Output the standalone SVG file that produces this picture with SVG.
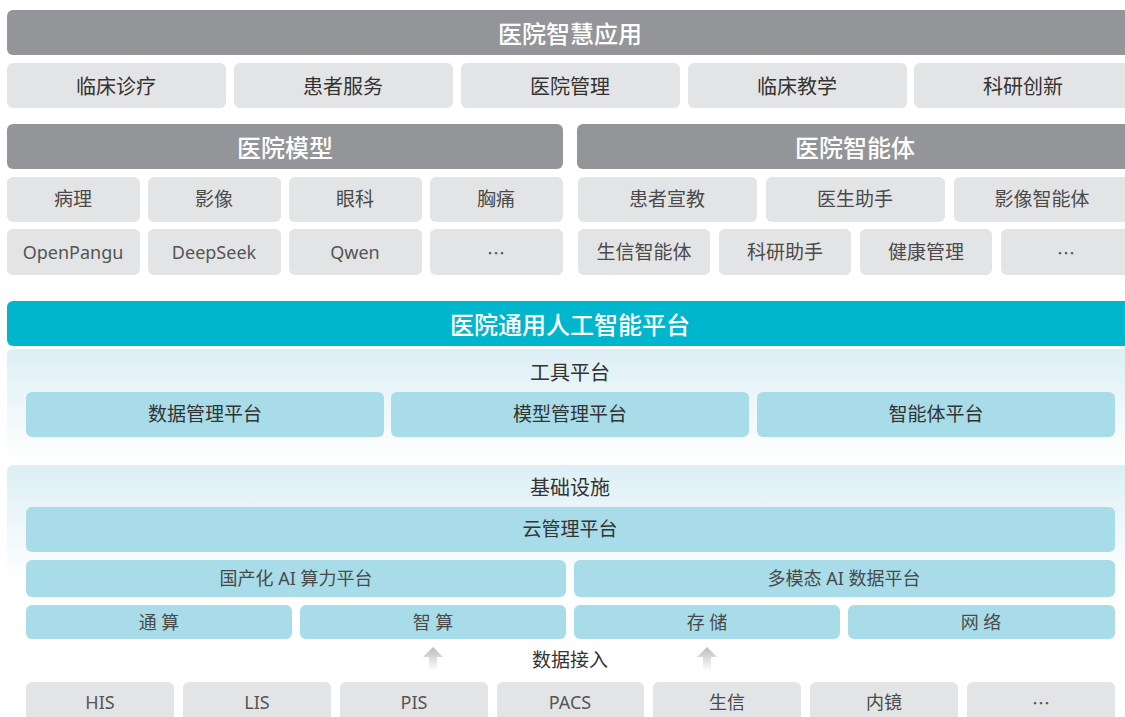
<svg xmlns="http://www.w3.org/2000/svg" width="1125" height="717" viewBox="0 0 1125 717">
<defs>
<linearGradient id="panelGrad" x1="0" y1="0" x2="0" y2="1">
<stop offset="0" stop-color="#DCEFF5"/>
<stop offset="1" stop-color="#FFFFFF"/>
</linearGradient>
<linearGradient id="panelGrad2" x1="0" y1="0" x2="0" y2="1">
<stop offset="0" stop-color="#DCEFF5"/>
<stop offset="0.65" stop-color="#FFFFFF"/>
<stop offset="1" stop-color="#FFFFFF"/>
</linearGradient>
<linearGradient id="arrowGrad" x1="0" y1="0" x2="0" y2="1">
<stop offset="0" stop-color="#B9BABC"/>
<stop offset="1" stop-color="#FFFFFF"/>
</linearGradient>
<style>
text{font-family:"Noto Sans","Noto Sans CJK SC",sans-serif;text-anchor:middle;dominant-baseline:central}
.hdr{fill:#939598}
.cell{fill:#E3E4E5}
.teal{fill:#00B6CD}
.blue{fill:#A7DCE8}
.ht{fill:#FFFFFF;font-size:24px;font-weight:500;font-family:"Noto Sans CJK SC",sans-serif}
.t20{fill:#333333;font-size:20px}
.t19{fill:#4a4a4a;font-size:19px}
.t18{fill:#4a4a4a;font-size:18px}
.lat{fill:#555555;font-size:18px}
.dots{fill:#555555;font-size:18px;font-family:"Noto Sans CJK SC",sans-serif}
.dark19{fill:#333333;font-size:19px}
</style>
</defs>
<rect width="1125" height="717" fill="#FFFFFF"/>

<!-- 医院智慧应用 -->
<g id="app-header"><rect class="hdr" x="7" y="10" width="1126" height="45" rx="6"/><text class="ht" x="570" y="32">医院智慧应用</text></g>
<g id="app-1"><rect class="cell" x="7" y="63" width="219" height="45" rx="6"/><text class="t20" x="116" y="86">临床诊疗</text></g>
<g id="app-2"><rect class="cell" x="234" y="63" width="219" height="45" rx="6"/><text class="t20" x="343" y="86">患者服务</text></g>
<g id="app-3"><rect class="cell" x="461" y="63" width="219" height="45" rx="6"/><text class="t20" x="570" y="86">医院管理</text></g>
<g id="app-4"><rect class="cell" x="688" y="63" width="219" height="45" rx="6"/><text class="t20" x="797" y="86">临床教学</text></g>
<g id="app-5"><rect class="cell" x="914" y="63" width="219" height="45" rx="6"/><text class="t20" x="1023" y="86">科研创新</text></g>

<!-- 医院模型 -->
<g id="model-header"><rect class="hdr" x="7" y="124" width="556" height="45" rx="6"/><text class="ht" x="285" y="146">医院模型</text></g>
<g id="model-1"><rect class="cell" x="7" y="177" width="133" height="45" rx="6"/><text class="t19" x="73" y="199">病理</text></g>
<g id="model-2"><rect class="cell" x="148" y="177" width="133" height="45" rx="6"/><text class="t19" x="214" y="199">影像</text></g>
<g id="model-3"><rect class="cell" x="289" y="177" width="133" height="45" rx="6"/><text class="t19" x="355" y="199">眼科</text></g>
<g id="model-4"><rect class="cell" x="430" y="177" width="133" height="45" rx="6"/><text class="t19" x="496" y="199">胸痛</text></g>
<g id="model-5"><rect class="cell" x="7" y="229" width="133" height="46" rx="6"/><text class="lat" x="73" y="252">OpenPangu</text></g>
<g id="model-6"><rect class="cell" x="148" y="229" width="133" height="46" rx="6"/><text class="lat" x="214" y="252">DeepSeek</text></g>
<g id="model-7"><rect class="cell" x="289" y="229" width="133" height="46" rx="6"/><text class="lat" x="355" y="252">Qwen</text></g>
<g id="model-8"><rect class="cell" x="430" y="229" width="133" height="46" rx="6"/><text class="dots" x="496" y="252">…</text></g>

<!-- 医院智能体 -->
<g id="agent-header"><rect class="hdr" x="577" y="124" width="556" height="45" rx="6"/><text class="ht" x="855" y="146">医院智能体</text></g>
<g id="agent-1"><rect class="cell" x="578" y="177" width="179" height="45" rx="6"/><text class="t19" x="667" y="199">患者宣教</text></g>
<g id="agent-2"><rect class="cell" x="766" y="177" width="179" height="45" rx="6"/><text class="t19" x="855" y="199">医生助手</text></g>
<g id="agent-3"><rect class="cell" x="954" y="177" width="179" height="45" rx="6"/><text class="t19" x="1042" y="199">影像智能体</text></g>
<g id="agent-4"><rect class="cell" x="578" y="229" width="132" height="46" rx="6"/><text class="t19" x="644" y="252">生信智能体</text></g>
<g id="agent-5"><rect class="cell" x="719" y="229" width="132" height="46" rx="6"/><text class="t19" x="785" y="252">科研助手</text></g>
<g id="agent-6"><rect class="cell" x="860" y="229" width="132" height="46" rx="6"/><text class="t19" x="926" y="252">健康管理</text></g>
<g id="agent-7"><rect class="cell" x="1001" y="229" width="132" height="46" rx="6"/><text class="dots" x="1066" y="252">…</text></g>

<!-- 医院通用人工智能平台 -->
<g id="platform-header"><rect class="teal" x="7" y="301" width="1126" height="45" rx="6"/><text class="ht" x="570" y="323">医院通用人工智能平台</text></g>

<!-- 工具平台 -->
<g id="tool-panel"><rect x="7" y="349" width="1126" height="113" rx="6" fill="url(#panelGrad)"/><text class="dark19" x="570" y="372" style="font-size:20px">工具平台</text></g>
<g id="tool-1"><rect class="blue" x="26" y="392" width="358" height="45" rx="6"/><text class="dark19" x="205" y="414">数据管理平台</text></g>
<g id="tool-2"><rect class="blue" x="391" y="392" width="358" height="45" rx="6"/><text class="dark19" x="570" y="414">模型管理平台</text></g>
<g id="tool-3"><rect class="blue" x="757" y="392" width="358" height="45" rx="6"/><text class="dark19" x="936" y="414">智能体平台</text></g>

<!-- 基础设施 -->
<g id="infra-panel"><rect x="7" y="465" width="1126" height="180" rx="6" fill="url(#panelGrad2)"/><text class="dark19" x="570" y="487" style="font-size:20px">基础设施</text></g>
<g id="infra-cloud"><rect class="blue" x="26" y="507" width="1089" height="45" rx="6"/><text class="dark19" x="570" y="529">云管理平台</text></g>
<g id="infra-compute"><rect class="blue" x="26" y="560" width="540" height="37" rx="6"/><text class="t18" x="296" y="578">国产化 AI 算力平台</text></g>
<g id="infra-data"><rect class="blue" x="574" y="560" width="541" height="37" rx="6"/><text class="t18" x="844" y="578">多模态 AI 数据平台</text></g>
<g id="infra-general"><rect class="blue" x="26" y="605" width="266" height="34" rx="6"/><text class="t18" x="159" y="622" xml:space="preserve">通 算</text></g>
<g id="infra-ai"><rect class="blue" x="300" y="605" width="266" height="34" rx="6"/><text class="t18" x="433" y="622" xml:space="preserve">智 算</text></g>
<g id="infra-storage"><rect class="blue" x="574" y="605" width="266" height="34" rx="6"/><text class="t18" x="707" y="622" xml:space="preserve">存 储</text></g>
<g id="infra-network"><rect class="blue" x="848" y="605" width="267" height="34" rx="6"/><text class="t18" x="981" y="622" xml:space="preserve">网 络</text></g>

<!-- 数据接入 arrows -->
<g id="connectors">
<path d="M433 647 L443 657 L437 657 L437 671 L429 671 L429 657 L423 657 Z" fill="url(#arrowGrad)"/>
<path d="M707 647 L717 657 L711 657 L711 671 L703 671 L703 657 L697 657 Z" fill="url(#arrowGrad)"/>
</g>
<g id="data-access-label"><text class="dark19" x="570" y="660">数据接入</text></g>

<!-- sources -->
<g id="src-1"><rect class="cell" x="26" y="682" width="148" height="45" rx="6"/><text class="lat" x="100" y="702">HIS</text></g>
<g id="src-2"><rect class="cell" x="183" y="682" width="148" height="45" rx="6"/><text class="lat" x="257" y="702">LIS</text></g>
<g id="src-3"><rect class="cell" x="340" y="682" width="148" height="45" rx="6"/><text class="lat" x="414" y="702">PIS</text></g>
<g id="src-4"><rect class="cell" x="497" y="682" width="147" height="45" rx="6"/><text class="lat" x="570" y="702">PACS</text></g>
<g id="src-5"><rect class="cell" x="653" y="682" width="148" height="45" rx="6"/><text class="t18" x="727" y="702">生信</text></g>
<g id="src-6"><rect class="cell" x="810" y="682" width="148" height="45" rx="6"/><text class="t18" x="884" y="702">内镜</text></g>
<g id="src-7"><rect class="cell" x="967" y="682" width="148" height="45" rx="6"/><text class="dots" x="1041" y="702">…</text></g>
</svg>
